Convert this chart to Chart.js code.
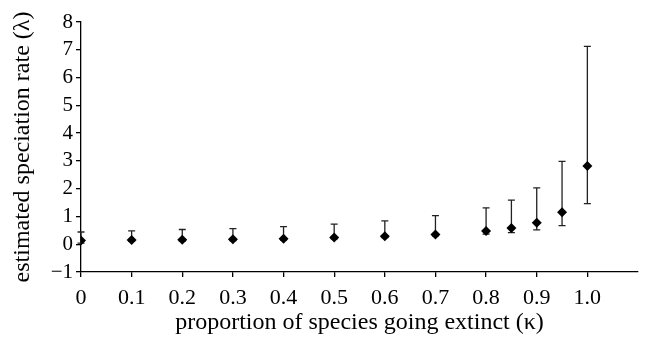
<!DOCTYPE html>
<html>
<head>
<meta charset="utf-8">
<script src="https://cdn.jsdelivr.net/npm/chart.js@4.4.1/dist/chart.umd.min.js"></script>
<style>
  html, body { margin: 0; padding: 0; background: #fff; }
  #wrap { width: 645px; height: 345px; }
</style>
</head>
<body>
<div id="wrap"><canvas id="grafico"></canvas></div>
<script>
// Datos
const kappa = [0, 0.1, 0.2, 0.3, 0.4, 0.5, 0.6, 0.7, 0.8, 0.85, 0.9, 0.95, 1.0];
const lambda = [0.13, 0.15, 0.16, 0.18, 0.2, 0.24, 0.29, 0.35, 0.48, 0.58, 0.77, 1.15, 2.82];
const lambdaUpper = [0.44, 0.48, 0.53, 0.56, 0.63, 0.72, 0.84, 1.03, 1.31, 1.59, 2.03, 2.98, 7.12];
const lambdaLower = [0.04, 0.1, 0.11, 0.13, 0.15, 0.19, 0.24, 0.3, 0.36, 0.42, 0.52, 0.67, 1.46];
const xTicks = [0, 0.1, 0.2, 0.3, 0.4, 0.5, 0.6, 0.7, 0.8, 0.9, 1.0];
const xTickLabels = ["0", "0.1", "0.2", "0.3", "0.4", "0.5", "0.6", "0.7", "0.8", "0.9", "1.0"];
const yTicks = [-1, 0, 1, 2, 3, 4, 5, 6, 7, 8];

const fuente = "'Liberation Serif', 'DejaVu Serif', serif";

// Plugin para dibujar las barras de error
const barrasError = {
  id: "barrasError",
  beforeDatasetsDraw(chart) {
    const ctx = chart.ctx;
    const x = chart.scales.x;
    const y = chart.scales.y;
    ctx.save();
    ctx.strokeStyle = "#222";
    ctx.lineWidth = 1.3;
    kappa.forEach((k, i) => {
      const px = x.getPixelForValue(k);
      const top = y.getPixelForValue(lambdaUpper[i]);
      const bot = y.getPixelForValue(lambdaLower[i]);
      ctx.beginPath();
      ctx.moveTo(px, top);
      ctx.lineTo(px, bot);
      ctx.moveTo(px - 3.5, top);
      ctx.lineTo(px + 3.5, top);
      ctx.moveTo(px - 3.5, bot);
      ctx.lineTo(px + 3.5, bot);
      ctx.stroke();
    });
    ctx.restore();
  },
};

const ctx = document.getElementById("grafico").getContext("2d");
new Chart(ctx, {
  type: "scatter",
  data: {
    datasets: [
      {
        data: kappa.map((k, i) => ({ x: k, y: lambda[i] })),
        pointStyle: "rectRot",
        pointRadius: 5,
        backgroundColor: "#000",
        borderColor: "#000",
        borderWidth: 0,
      },
    ],
  },
  options: {
    responsive: true,
    maintainAspectRatio: false,
    animation: false,
    layout: { padding: { top: 22, right: 7, left: 0, bottom: 0 } },
    plugins: {
      legend: { display: false },
      tooltip: { enabled: false },
    },
    scales: {
      x: {
        type: "linear",
        min: 0,
        max: 1.1,
        afterBuildTicks: (scale) => {
          scale.ticks = xTicks.map((v) => ({ value: v }));
        },
        afterFit: (scale) => {
          scale.height = 73;
        },
        border: { display: true, color: "#000", width: 1.3 },
        grid: {
          display: true,
          drawOnChartArea: false,
          drawTicks: true,
          tickLength: 5,
          color: "#000",
          lineWidth: 1.3,
        },
        ticks: {
          color: "#000",
          font: { family: fuente, size: 22 },
          padding: 8,
          maxRotation: 0,
          autoSkip: false,
          callback: (value) => xTickLabels[xTicks.indexOf(value)],
        },
        title: {
          display: true,
          text: "proportion of species going extinct (κ)",
          color: "#000",
          font: { family: fuente, size: 24 },
          padding: { top: 2, bottom: 8 },
        },
      },
      y: {
        type: "linear",
        min: -1,
        max: 8,
        afterBuildTicks: (scale) => {
          scale.ticks = yTicks.map((v) => ({ value: v }));
        },
        afterFit: (scale) => {
          scale.width = 81;
        },
        border: { display: true, color: "#000", width: 1.3 },
        grid: {
          display: true,
          drawOnChartArea: false,
          drawTicks: true,
          tickLength: 5,
          color: "#000",
          lineWidth: 1.3,
        },
        ticks: {
          color: "#000",
          font: { family: fuente, size: 21 },
          padding: 3,
          autoSkip: false,
          callback: (value) => String(value).replace("-", "\u2212"),
        },
        title: {
          display: true,
          text: "estimated speciation rate (λ)",
          color: "#000",
          font: { family: fuente, size: 24 },
          padding: { top: 8, bottom: 0 },
        },
      },
    },
  },
  plugins: [barrasError],
});
</script>
</body>
</html>
